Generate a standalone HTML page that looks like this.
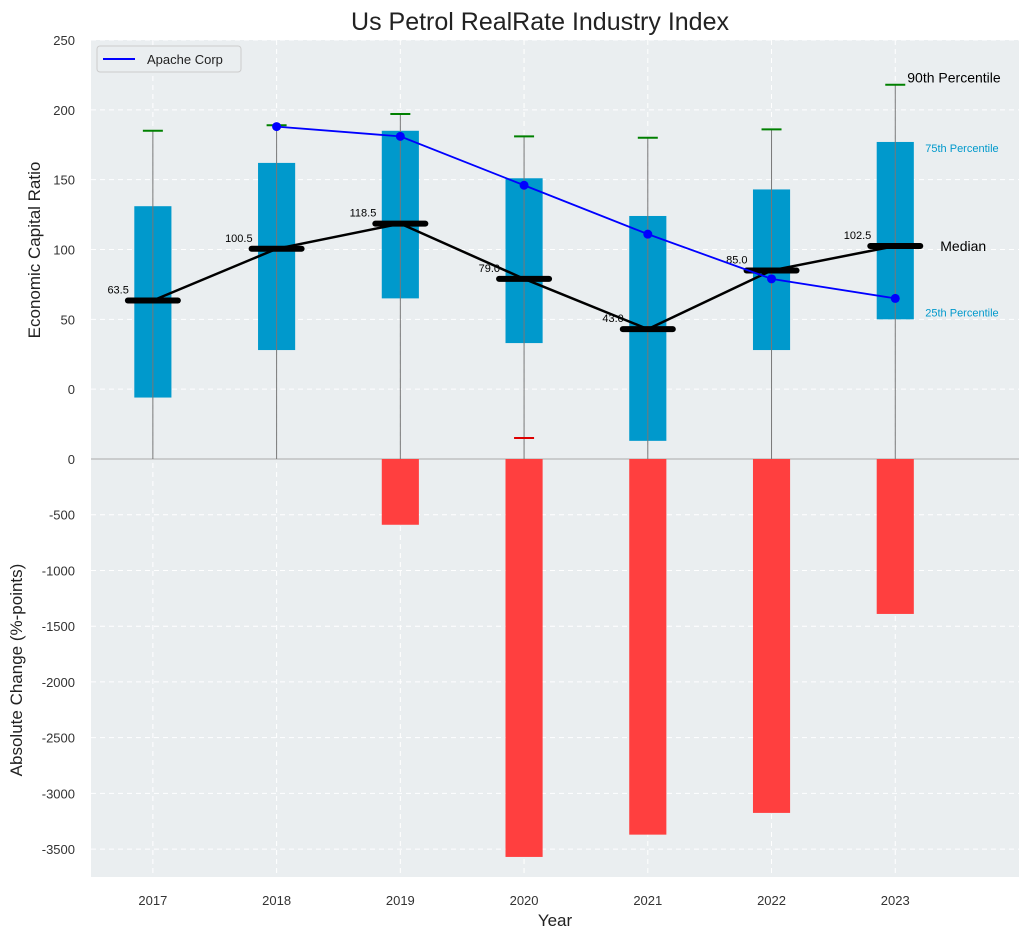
<!DOCTYPE html>
<html><head><meta charset="utf-8"><style>
body{margin:0;background:#fff;font-family:"Liberation Sans",sans-serif}
svg text{font-family:"Liberation Sans",sans-serif}
</style></head><body>
<svg id="c" width="1030" height="940" xmlns="http://www.w3.org/2000/svg"></svg>
<script>
const years=[2017,2018,2019,2020,2021,2022,2023];
const q25=[-6,28,65,33,-37,28,50];
const q75=[131,162,185,151,124,143,177];
const p90=[185,189,197,181,180,186,218];
const medians=[63.5,100.5,118.5,79.0,43.0,85.0,102.5];
const apache=[null,188,181,146,111,79,65];
const changes=[0,0,-590,-3570,-3370,-3175,-1390];
const lowCaps=[null,null,null,-35,null,null,null];
const topTicks=[0,50,100,150,200,250];
const botTicks=[0,-500,-1000,-1500,-2000,-2500,-3000,-3500];

const NS="http://www.w3.org/2000/svg";
const svg=document.getElementById('c');
const L=91,R=1019,T=40,M=459,B=877;
const x=v=>L+(v-2016.5)/(7.5)*(R-L);
const yT=v=>M-(v+50)/300*(M-T);
const yB=v=>M+(v/-3750)*(B-M);
function el(t,a,name,txt){const e=document.createElementNS(NS,t);for(const k in a)e.setAttribute(k,a[k]);


if(txt!==undefined)e.textContent=txt;svg.appendChild(e);return e;}
el('rect',{x:L,y:T,width:R-L,height:B-T,fill:'#eaeef0'},'plot-background');
topTicks.forEach(t=>{el('line',{x1:L,x2:R,y1:yT(t),y2:yT(t),stroke:'#fff','stroke-dasharray':'5,4','stroke-width':1},'grid-line-top');
el('text',{x:L-16,y:yT(t)+5,'text-anchor':'end','font-size':13,fill:'#333'},'y-tick-top',t);});
botTicks.forEach(t=>{el('line',{x1:L,x2:R,y1:yB(t),y2:yB(t),stroke:'#fff','stroke-dasharray':'5,4','stroke-width':1},'grid-line-bottom');
if(t!==0)el('text',{x:L-16,y:yB(t)+5,'text-anchor':'end','font-size':13,fill:'#333'},'y-tick-bottom',t);});
el('text',{x:L-16,y:M+5,'text-anchor':'end','font-size':13,fill:'#333'},'y-tick-bottom','0');
years.forEach(yr=>{el('line',{x1:x(yr),x2:x(yr),y1:T,y2:B,stroke:'#fff','stroke-dasharray':'5,4'},'grid-line-x');
el('text',{x:x(yr),y:B+28,'text-anchor':'middle','font-size':13,fill:'#333'},'x-tick',yr);});
el('line',{x1:L,x2:R,y1:M,y2:M,stroke:'#aaa','stroke-width':1},'panel-divider');
const bw=(x(2017.15)-x(2016.85));
years.forEach((yr,i)=>{if(changes[i]<0)el('rect',{x:x(yr)-bw/2,y:M,width:bw,height:yB(changes[i])-M,fill:'#ff3f3f'},'change-bar-'+yr);});
years.forEach((yr,i)=>{el('rect',{x:x(yr)-bw/2,y:yT(q75[i]),width:bw,height:yT(q25[i])-yT(q75[i]),fill:'#0099cc'},'iqr-box-'+yr);
el('line',{x1:x(yr),x2:x(yr),y1:yT(p90[i]),y2:M,stroke:'#777','stroke-width':1},'whisker-'+yr);
el('line',{x1:x(yr)-10,x2:x(yr)+10,y1:yT(p90[i]),y2:yT(p90[i]),stroke:'green','stroke-width':2},'p90-cap-'+yr);
if(lowCaps[i]!==null)el('line',{x1:x(yr)-10,x2:x(yr)+10,y1:yT(lowCaps[i]),y2:yT(lowCaps[i]),stroke:'#d00','stroke-width':2},'p10-cap-'+yr);});
el('polyline',{points:years.map((yr,i)=>x(yr)+','+yT(medians[i])).join(' '),fill:'none',stroke:'#000','stroke-width':2.5},'median-line');
years.forEach((yr,i)=>{el('line',{x1:x(yr)-25,x2:x(yr)+25,y1:yT(medians[i]),y2:yT(medians[i]),stroke:'#000','stroke-width':6,'stroke-linecap':'round'},'median-marker-'+yr);
el('text',{x:x(yr)-24,y:yT(medians[i])-7,'text-anchor':'end','font-size':11,fill:'#000'},'median-label-'+yr,medians[i].toFixed(1));});
const pts=years.map((yr,i)=>apache[i]===null?null:[x(yr),yT(apache[i])]).filter(p=>p);
el('polyline',{points:pts.map(p=>p.join(',')).join(' '),fill:'none',stroke:'blue','stroke-width':1.8},'apache-line');
pts.forEach(p=>el('circle',{cx:p[0],cy:p[1],r:4.5,fill:'blue'},'apache-point'));
const lx=x(2023);
el('text',{x:lx+12,y:yT(p90[6])-2,'font-size':14,fill:'#000'},'label-90th','90th Percentile');
el('text',{x:lx+30,y:yT(q75[6])+10,'font-size':11,fill:'#0099cc'},'label-75th','75th Percentile');
el('text',{x:lx+45,y:yT(medians[6])+5,'font-size':14,fill:'#000'},'label-median','Median');
el('text',{x:lx+30,y:yT(q25[6])-3,'font-size':11,fill:'#0099cc'},'label-25th','25th Percentile');
el('rect',{x:97,y:46,width:144,height:26,rx:3,fill:'#eaeef0',stroke:'#ccc'},'legend');
el('line',{x1:103,x2:135,y1:59,y2:59,stroke:'blue','stroke-width':2},'legend-swatch');
el('text',{x:147,y:64,'font-size':13,fill:'#222'},'legend-label','Apache Corp');
el('text',{x:540,y:30,'text-anchor':'middle','font-size':25,fill:'#222'},'chart-title','Us Petrol RealRate Industry Index');
el('text',{x:555,y:926,'text-anchor':'middle','font-size':17,fill:'#222'},'x-axis-title','Year');
el('text',{x:40,y:250,'text-anchor':'middle','font-size':17,fill:'#222',transform:'rotate(-90 40 250)'},'y-axis-title-top','Economic Capital Ratio');
el('text',{x:22,y:670,'text-anchor':'middle','font-size':17,fill:'#222',transform:'rotate(-90 22 670)'},'y-axis-title-bottom','Absolute Change (%-points)');
</script></body></html>
